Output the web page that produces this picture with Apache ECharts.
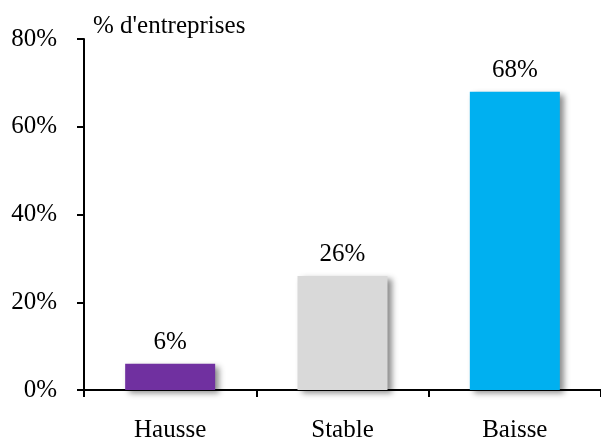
<!DOCTYPE html>
<html><head><meta charset="utf-8">
<script src="https://cdn.jsdelivr.net/npm/echarts@6/dist/echarts.min.js"></script>
<style>html,body{margin:0;padding:0;background:#fff}#c{width:601px;height:443px}</style>
</head><body><div id="c"></div>
<script>
var categories = ['Hausse', 'Stable', 'Baisse'];
var values = [6, 26, 68];
var colors = ['#7030A0', '#D9D9D9', '#00B0F0'];
var yTicks = [0, 20, 40, 60, 80];
var yName = "% d'entreprises";

var font = 'Liberation Serif, Times New Roman, serif';
var chart = echarts.init(document.getElementById('c'), null, {renderer: 'canvas'});
chart.setOption({
  animation: false,
  grid: {left: 84, width: 523, top: 39, bottom: 50},
  xAxis: {
    type: 'category', data: categories, boundaryGap: true,
    axisLine: {lineStyle: {color: '#000', width: 2}},
    axisTick: {show: true, length: 7, lineStyle: {color: '#000', width: 2}},
    axisLabel: {color: '#000', fontFamily: font, fontSize: 25, margin: 28}
  },
  yAxis: {
    type: 'value', min: yTicks[0], max: yTicks[yTicks.length - 1], interval: 20,
    name: yName, nameLocation: 'end', nameGap: 0,
    nameTextStyle: {color: '#000', fontFamily: font, fontSize: 25, align: 'left', padding: [0, 0, 0, 9]},
    axisLine: {show: true, lineStyle: {color: '#000', width: 2}},
    axisTick: {show: true, length: 7, lineStyle: {color: '#000', width: 2}},
    splitLine: {show: false},
    axisLabel: {color: '#000', fontFamily: font, fontSize: 25, margin: 27, formatter: '{value}%'}
  },
  series: [{
    type: 'bar', barWidth: 90,
    data: values.map(function (v, i) {
      return {value: v, itemStyle: {color: colors[i]}};
    }),
    itemStyle: {shadowColor: 'rgba(0,0,0,0.45)', shadowBlur: 6, shadowOffsetX: 4, shadowOffsetY: 3},
    label: {show: true, position: 'top', distance: 9, color: '#000', fontFamily: font, fontSize: 25, formatter: '{c}%'}
  }]
});
</script></body></html>
